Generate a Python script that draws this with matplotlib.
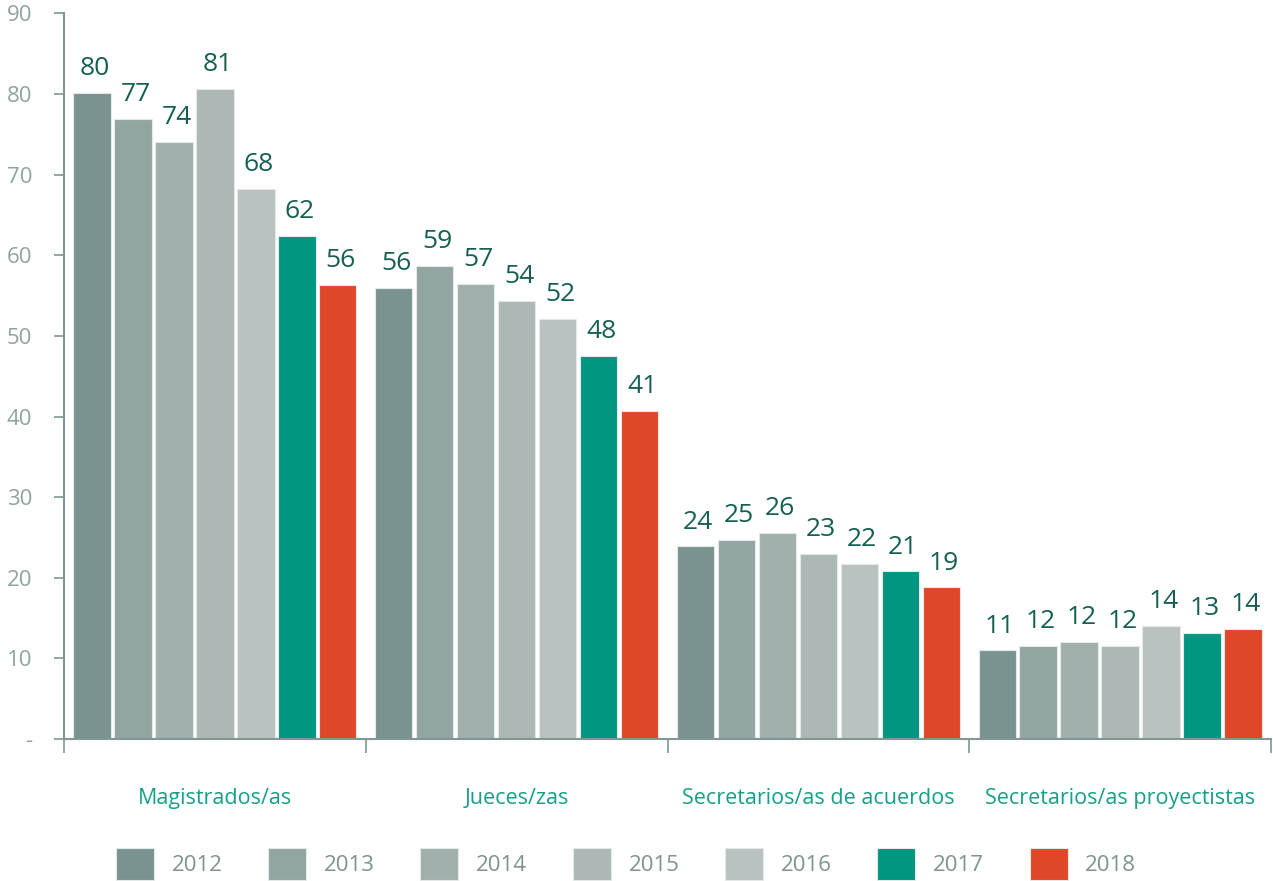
#!/usr/bin/env python3
import matplotlib
matplotlib.use("Agg")
import matplotlib.pyplot as plt
import numpy as np

plt.rcParams["font.family"] = ["Open Sans", "DejaVu Sans"]

CATEGORIES = [
    "Magistrados/as",
    "Jueces/zas",
    "Secretarios/as de acuerdos",
    "Secretarios/as proyectistas",
]
YEARS = ["2012", "2013", "2014", "2015", "2016", "2017", "2018"]

# one list per category, ordered by year
MAGISTRADOS = [80.1, 76.9, 74.1, 80.6, 68.2, 62.4, 56.3]
JUECES = [56.0, 58.7, 56.5, 54.3, 52.1, 47.5, 40.7]
SECRETARIOS_ACUERDOS = [23.9, 24.7, 25.6, 23.0, 21.7, 20.8, 18.8]
SECRETARIOS_PROYECTISTAS = [11.0, 11.5, 12.0, 11.5, 14.0, 13.2, 13.7]

Y_TICKS = [0, 10, 20, 30, 40, 50, 60, 70, 80, 90]
Y_TICK_LABELS = ["-", "10", "20", "30", "40", "50", "60", "70", "80", "90"]

BAR_COLORS = ["#7a9391", "#92a5a2", "#a1afad", "#abb8b6", "#b8c3c1", "#009680", "#e04628"]
AXIS_COLOR = "#7f9896"
TICK_TEXT = "#8fa4a1"
VALUE_TEXT = "#155f54"
CAT_TEXT = "#14a08a"

values = np.array([MAGISTRADOS, JUECES, SECRETARIOS_ACUERDOS, SECRETARIOS_PROYECTISTAS])

fig = plt.figure(figsize=(12.73, 8.81), dpi=100)
ax = fig.add_axes([64 / 1273, 1 - 739 / 881, (1271 - 64) / 1273, (739 - 13.5) / 881])

step = 41 / 302
width = 0.124
centers = np.arange(len(CATEGORIES)) + 0.5
for j, year in enumerate(YEARS):
    x = centers + (j - 3) * step
    bars = ax.bar(x, values[:, j], width=width, color=BAR_COLORS[j],
                  edgecolor="#e4e9e8", linewidth=0.8, label=year, zorder=2)
    for rect, v in zip(bars, values[:, j]):
        ax.annotate(f"{int(v + 0.5)}", (rect.get_x() + rect.get_width() / 2, v),
                    xytext=(2, 8.5), textcoords="offset points", ha="center", va="bottom",
                    fontsize=19, color=VALUE_TEXT)

ax.set_xlim(0, len(CATEGORIES))
ax.set_ylim(0, 90)

for side in ("top", "right"):
    ax.spines[side].set_visible(False)
for side in ("left", "bottom"):
    ax.spines[side].set_color(AXIS_COLOR)
    ax.spines[side].set_linewidth(1.5)

ax.set_yticks(Y_TICKS)
ax.set_yticklabels(Y_TICK_LABELS)
ax.tick_params(axis="y", colors=AXIS_COLOR, length=7, width=1.2, labelsize=16,
               labelcolor=TICK_TEXT, pad=16)

ax.set_xticks(np.arange(len(CATEGORIES) + 1))
ax.set_xticklabels([])
ax.tick_params(axis="x", which="major", colors=AXIS_COLOR, length=10, width=1.2, direction="out")
ax.set_xticks(centers, minor=True)
ax.set_xticklabels(CATEGORIES, minor=True)
ax.tick_params(axis="x", which="minor", length=0, labelsize=15.5, labelcolor=CAT_TEXT, pad=35)

fig.legend(loc="center", bbox_to_anchor=(0.4918, 1 - 864 / 881), ncol=7, frameon=False,
           fontsize=16, labelcolor="#7d9491", handlelength=1.71, handleheight=1.84,
           handletextpad=0.8, columnspacing=2.05)

fig.savefig("out.png", dpi=100)
